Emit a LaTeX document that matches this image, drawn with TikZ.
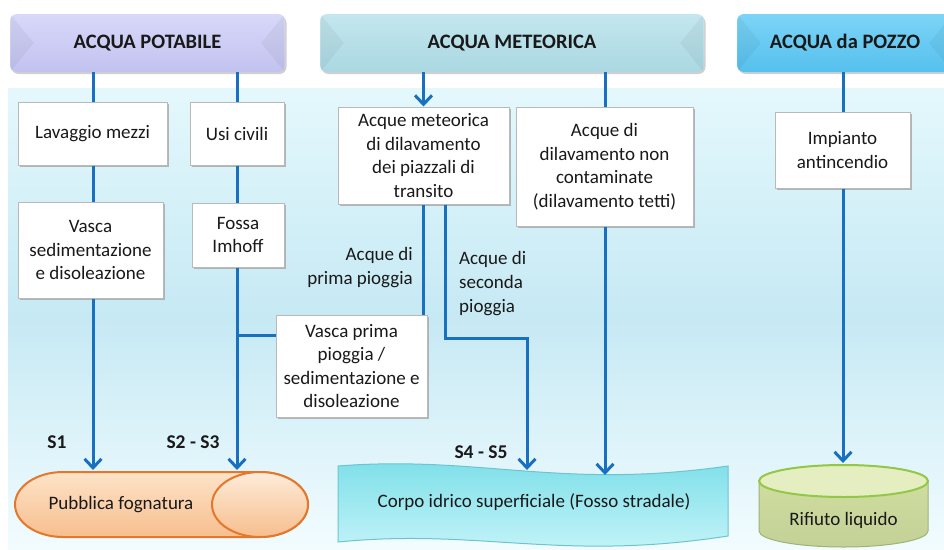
\documentclass[tikz,border=0pt]{standalone}
\usepackage{fontspec}
\setmainfont{Carlito}
\usetikzlibrary{arrows.meta,shadows,calc}
\definecolor{lineblue}{RGB}{24,112,192}
\definecolor{txt}{RGB}{25,25,25}
\definecolor{bgtop}{RGB}{228,248,252}
\definecolor{bgmid}{RGB}{198,233,244}
\definecolor{bgbot}{RGB}{242,252,255}
\definecolor{potT}{RGB}{216,216,250}
\definecolor{potB}{RGB}{194,194,240}
\definecolor{metT}{RGB}{196,230,238}
\definecolor{metB}{RGB}{170,216,226}
\definecolor{pozT}{RGB}{124,212,246}
\definecolor{pozB}{RGB}{86,192,238}
\definecolor{orT}{RGB}{253,227,200}
\definecolor{orB}{RGB}{247,190,142}
\definecolor{orL}{RGB}{228,120,42}
\definecolor{cyT}{RGB}{122,222,232}
\definecolor{cyB}{RGB}{204,246,250}
\definecolor{cyL}{RGB}{110,196,206}
\definecolor{grT}{RGB}{228,238,192}
\definecolor{grB}{RGB}{210,224,162}
\definecolor{grL}{RGB}{146,200,70}
\definecolor{grS}{RGB}{160,178,118}
\newcommand\hfacets[1]{%
  \fill[black,opacity=0.045] ([shift={(1,1)}]#1.north west) -- ([xshift=24pt]#1.west) -- ([shift={(1,-1)}]#1.south west) -- cycle;
  \fill[black,opacity=0.045] ([shift={(-1,1)}]#1.north east) -- ([xshift=-24pt]#1.east) -- ([shift={(-1,-1)}]#1.south east) -- cycle;}
\begin{document}
\begin{tikzpicture}[x=1pt,y=-1pt,
  conn/.style={draw=lineblue,line width=3pt},
  arr/.style={conn,-{Straight Barb[length=9pt,width=17pt]}},
  wbox/.style={draw=gray!55,line width=1pt,fill=white,align=center,inner sep=2pt,
    font=\fontsize{19pt}{23.5pt}\selectfont,text=txt,
    drop shadow={shadow xshift=2pt,shadow yshift=-2pt,fill=gray!70,opacity=0.8}},
  hdr/.style={rounded corners=7pt,font=\bfseries\fontsize{20.5pt}{24pt}\selectfont,text=txt,
    minimum height=58pt,
    drop shadow={shadow xshift=1.5pt,shadow yshift=-2pt,fill=gray!60,opacity=0.6}},
  lbl/.style={font=\fontsize{19pt}{24pt}\selectfont,text=txt,inner sep=0pt},
  slbl/.style={font=\bfseries\fontsize{19.5pt}{23pt}\selectfont,text=txt,inner sep=0pt}
]
\useasboundingbox (0,0) rectangle (944,549);
\clip (0,0) rectangle (944,549);
\fill[white] (0,0) rectangle (944,549);
% background band
\fill[top color=bgtop,bottom color=bgbot,middle color=bgmid] (8,88) rectangle (944,549);

% headers
\node[hdr,top color=potT,bottom color=potB,minimum width=275pt] (hpot) at (147.5,43) {ACQUA POTABILE};
\hfacets{hpot}
\node[hdr,top color=metT,bottom color=metB,minimum width=384pt] (hmet) at (512,43) {ACQUA METEORICA};
\hfacets{hmet}
\node[hdr,top color=pozT,bottom color=pozB,minimum width=216pt] (hpoz) at (845,43) {ACQUA da POZZO};
\hfacets{hpoz}

% boxes
\node[wbox,minimum width=149pt,minimum height=63pt] (lav) at (92.5,133.5) {Lavaggio mezzi};
\node[wbox,minimum width=94pt,minimum height=63pt] (usi) at (237,133.5) {Usi civili};
\node[wbox,minimum width=145pt,minimum height=96pt] (vsed) at (90.5,250) {Vasca\\sedimentazione\\e disoleazione};
\node[wbox,minimum width=92pt,minimum height=64pt] (fossa) at (238,235) {Fossa\\Imhoff};
\node[wbox,minimum width=171pt,minimum height=97pt] (amet) at (423.5,155.5) {Acque meteorica\\di dilavamento\\dei piazzali di\\transito};
\node[wbox,minimum width=177pt,minimum height=119pt] (anc) at (604.5,166.5) {Acque di\\dilavamento non\\contaminate\\(dilavamento tetti)};
\node[wbox,minimum width=135pt,minimum height=76pt] (imp) at (842.5,150) {Impianto\\antincendio};
\node[wbox,minimum width=151pt,minimum height=102pt] (vpri) at (351.5,366) {Vasca prima\\pioggia /\\sedimentazione e\\disoleazione};

% bottom shapes
\path[draw=orL,line width=2pt,top color=orT,bottom color=orB]
  (63,472) -- (260,472) arc[start angle=90,end angle=-90,x radius=48pt,y radius=32.5pt]
  -- (63,537) arc[start angle=270,end angle=90,x radius=48pt,y radius=32.5pt] -- cycle;
\draw[orL,line width=2pt,top color=orT!70!white,bottom color=orB] (260,504.5) ellipse [x radius=48pt,y radius=32.5pt];
\node[lbl] (fogn) at (121,505) {Pubblica fognatura};

\path[draw=cyL,line width=1pt,top color=cyT,bottom color=cyB]
  (338,466) .. controls (480,455) and (560,490) .. (728,466)
  -- (728,536) .. controls (560,562) and (480,528) .. (338,542) -- cycle;
\node[lbl] (corpo) at (534,502) {Corpo idrico superficiale (Fosso stradale)};

\path[draw=grS,line width=1pt,top color=grB,bottom color=grB!93!black]
  (759,481) -- (759,531) arc[start angle=180,end angle=360,x radius=84.5pt,y radius=16pt]
  -- (928,481) arc[start angle=0,end angle=180,x radius=84.5pt,y radius=16pt] -- cycle;
\draw[grL,line width=2pt,fill=grT] (843.5,481) ellipse [x radius=84.5pt,y radius=16pt];
\node[lbl] (rif) at (843.5,520) {Rifiuto liquido};

% arrow end points
\coordinate (fS1) at (93,470);
\coordinate (fS2) at (237,470);
\coordinate (cA) at (527,470);
\coordinate (cB) at (605,475);
\coordinate (rT) at (843,463);
\coordinate (sec) at (445,338);
\coordinate (brY) at (0,335);

% connectors
\draw[conn] (hpot.south -| fS1) -- (lav.north -| fS1);
\draw[conn] (lav.south -| fS1) -- (vsed.north -| fS1);
\draw[arr] (vsed.south -| fS1) -- (fS1);
\draw[conn] (hpot.south -| fS2) -- (usi.north -| fS2);
\draw[conn] (usi.south -| fS2) -- (fossa.north -| fS2);
\draw[arr] (fossa.south -| fS2) -- (fS2);
\draw[conn] (fS2 |- brY) -- (vpri.west |- brY);
\draw[arr] (amet.north |- hmet.south) -- (amet.north);
\draw[conn] (amet.south) -- (amet.south |- vpri.north);
\draw[arr] (amet.south -| sec) -- (sec) -| (cA);
\draw[conn] (cB |- hmet.south) -- (cB |- anc.north);
\draw[arr] (cB |- anc.south) -- (cB);
\draw[conn] (rT |- hpoz.south) -- (rT |- imp.north);
\draw[arr] (rT |- imp.south) -- (rT);

% labels
\node[lbl,align=right,anchor=east] (lprima) at (413,268) {Acque di\\prima pioggia};
\node[lbl,align=left,anchor=west] (lsec) at (459,284) {Acque di\\seconda\\pioggia};
\node[slbl] (s1) at (57,442) {S1};
\node[slbl] (s23) at (193,442) {S2 - S3};
\node[slbl] (s45) at (481,452) {S4 - S5};
\end{tikzpicture}
\end{document}
